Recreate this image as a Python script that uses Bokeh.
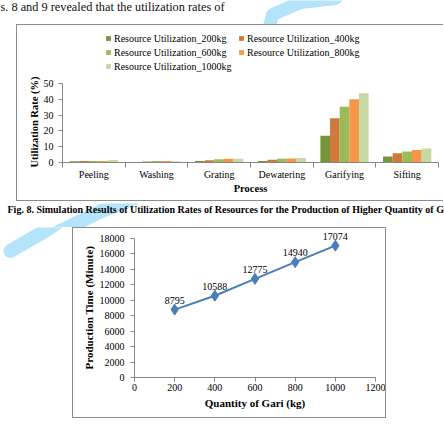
from bokeh.plotting import figure
from bokeh.models import (Range1d, LinearAxis, FixedTicker, Title,
                          Legend, LegendItem, ColumnDataSource, LabelSet, CustomJSTickFormatter)
from bokeh.layouts import column, row
from bokeh.transform import dodge
from bokeh.embed import file_html
from bokeh.resources import INLINE
from bokeh.core.properties import value

# ---------------- data ----------------
processes = ["Peeling", "Washing", "Grating", "Dewatering", "Garifying", "Sifting"]
series_labels = ["Resource Utilization_200kg", "Resource Utilization_400kg",
                 "Resource Utilization_600kg", "Resource Utilization_800kg",
                 "Resource Utilization_1000kg"]
util_200kg = [0.8, 0.3, 0.9, 1.0, 17.0, 3.8]
util_400kg = [1.0, 0.7, 1.4, 1.7, 28.0, 5.8]
util_600kg = [1.0, 0.9, 2.0, 2.4, 35.3, 7.0]
util_800kg = [1.0, 0.9, 2.4, 2.5, 40.0, 7.9]
util_1000kg = [1.6, 0.8, 2.4, 2.9, 43.8, 8.8]
util_ticks = [0, 10, 20, 30, 40, 50]

quantity_kg = [200, 400, 600, 800, 1000]
production_time_min = [8795, 10588, 12775, 14940, 17074]
quantity_ticks = [0, 200, 400, 600, 800, 1000, 1200]
time_ticks = [0, 2000, 4000, 6000, 8000, 10000, 12000, 14000, 16000, 18000]

intro_text = "s. 8 and 9 revealed that the utilization rates of"
caption8 = ("Fig. 8. Simulation Results of Utilization Rates of Resources for the "
            "Production of Higher Quantity of G")

# ---------------- styles ----------------
SERIF = "Liberation Serif"
AXIS_GRAY = "#868686"
FRAME_BORDER = "1px solid #8c8c8c"
series_colors = ["#77933C", "#CD7B3C", "#9BBB59", "#F79646", "#C6D9A3"]
LINE_BLUE = "#4A7EBB"
WATERMARK = "#b3e4fa"


def canvas(w, h):
    f = figure(width=w, height=h, x_range=Range1d(0, w), y_range=Range1d(h, 0),
               output_backend="svg", toolbar_location=None,
               x_axis_location=None, y_axis_location=None,
               min_border=0, min_border_left=0, min_border_right=0,
               min_border_top=0, min_border_bottom=0)
    f.xgrid.visible = False
    f.ygrid.visible = False
    f.outline_line_color = None
    f.background_fill_color = "white"
    f.border_fill_color = "white"
    return f


def style_axis(ax, size="10px"):
    ax.axis_line_color = AXIS_GRAY
    ax.major_tick_line_color = AXIS_GRAY
    ax.minor_tick_line_color = None
    ax.major_label_text_font = SERIF
    ax.major_label_text_font_size = size
    ax.major_label_text_color = "black"
    ax.axis_label_text_font = SERIF
    ax.axis_label_text_font_style = "bold"
    ax.axis_label_text_font_size = "10.5px"
    ax.axis_label_text_color = "black"


def side_title(text, offset, size, standoff):
    # vertical title on the left; "left" alignment starts at the frame bottom
    return Title(text=text, align="left", offset=offset, standoff=standoff,
                 text_font=SERIF, text_font_style="bold", text_font_size=size,
                 text_color="black")


# ---------------- top text (with a bit of the page watermark) ----------------
p_top = canvas(444, 24)
p_top.line(x=[335, 300, 272, 268], y=[-2, 2, 14, 30], line_width=13,
           line_color=WATERMARK, line_cap="round", line_join="round")
p_top.text(x=[0], y=[6], text=[intro_text], text_baseline="middle",
           text_font=value(SERIF), text_font_size="12.3px", text_color="#111111")

# ---------------- chart 1 ----------------
n_proc = len(processes)
centers = [i + 0.5 for i in range(n_proc)]
src1 = ColumnDataSource(dict(pos=centers, s200=util_200kg, s400=util_400kg,
                             s600=util_600kg, s800=util_800kg, s1000=util_1000kg))
cols = ["s200", "s400", "s600", "s800", "s1000"]

P1_W, P1_H = 427, 177
P1_LEFT, P1_RIGHT, P1_BOTTOM = 45, 6, 40
P1_AXIS_PX = 79                       # pixel height of the 0..50 value axis
p1_frame_h = P1_H - P1_BOTTOM
p1_top_val = util_ticks[-1] * p1_frame_h / P1_AXIS_PX   # room above the axis for the legend

p1 = figure(width=P1_W, height=P1_H, x_range=Range1d(0, n_proc),
            y_range=Range1d(0, p1_top_val), output_backend="svg", toolbar_location=None,
            min_border_left=P1_LEFT, min_border_right=P1_RIGHT, min_border_top=0,
            min_border_bottom=P1_BOTTOM)
p1.xgrid.visible = False
p1.ygrid.visible = False
p1.outline_line_color = None
p1.styles = {"border-left": FRAME_BORDER, "border-top": FRAME_BORDER,
             "border-bottom": FRAME_BORDER}

bw = 0.154
offsets = [-2 * bw, -bw, 0.0, bw, 2 * bw]
items = []
for col, off, colr, lab in zip(cols, offsets, series_colors, series_labels):
    r = p1.vbar(x=dodge("pos", off), top=col, width=bw,
                source=src1, fill_color=colr, line_color=None)
    items.append(LegendItem(label=lab, renderers=[r]))

style_axis(p1.yaxis[0])
p1.yaxis.ticker = FixedTicker(ticks=util_ticks)
p1.yaxis.bounds = (util_ticks[0], util_ticks[-1])
p1.yaxis.major_tick_out = 4
p1.yaxis.major_tick_in = 0
p1.yaxis.major_label_standoff = 5
p1.add_layout(side_title("Utilization Rate (%)", -5, "10.5px", 2), "left")

# boundary ticks (category separators) on the default x axis
ax_b = p1.xaxis[0]
style_axis(ax_b)
ax_b.ticker = FixedTicker(ticks=list(range(n_proc + 1)))
ax_b.formatter = CustomJSTickFormatter(code="return ''")
ax_b.major_tick_out = 5
ax_b.major_tick_in = 0
ax_b.major_label_standoff = 0
ax_b.major_label_text_font_size = "0px"

# category names at centres
ax_c = LinearAxis(ticker=FixedTicker(ticks=centers),
                  formatter=CustomJSTickFormatter(args=dict(names=processes),
                                                  code="return names[Math.floor(tick)] || ''"))
style_axis(ax_c)
ax_c.axis_line_color = None
ax_c.major_tick_line_color = None
ax_c.major_tick_out = 0
ax_c.major_tick_in = 0
ax_c.major_label_standoff = 1
ax_c.axis_label = "Process"
ax_c.axis_label_standoff = 0
p1.add_layout(ax_c, "below")

legend = Legend(items=items, orientation="horizontal", ncols=2, location=(43, 90),
                glyph_width=6, glyph_height=6, label_standoff=3, spacing=2,
                label_height=12, label_width=122, padding=0, margin=0,
                border_line_color=None, background_fill_alpha=0,
                label_text_font=SERIF, label_text_font_size="10px",
                label_text_color="black")
p1.add_layout(legend)

# ---------------- caption 8 ----------------
p_cap = canvas(444, 24)
p_cap.line(x=[140, 100, 55], y=[-8, 8, 30], line_width=14,
           line_color=WATERMARK, line_cap="round", line_join="round")
p_cap.text(x=[7], y=[6], text=[caption8], text_baseline="middle",
           text_font=value(SERIF), text_font_style="bold", text_font_size="10px",
           text_color="black")

# ---------------- chart 2 ----------------
labels = [str(v) for v in production_time_min]
src2 = ColumnDataSource(dict(q=quantity_kg, t=production_time_min, lbl=labels))

P2_W, P2_H = 314, 193 - 2
P2_LEFT, P2_RIGHT, P2_BOTTOM = 61, 12, 42
P2_AXIS_PX = 139
p2_frame_h = P2_H - P2_BOTTOM
p2_top_val = time_ticks[-1] * p2_frame_h / P2_AXIS_PX

p2 = figure(width=P2_W, height=P2_H, x_range=Range1d(quantity_ticks[0], quantity_ticks[-1]),
            y_range=Range1d(0, p2_top_val),
            output_backend="svg", toolbar_location=None,
            min_border_left=P2_LEFT, min_border_right=P2_RIGHT, min_border_top=0,
            min_border_bottom=P2_BOTTOM)
p2.xgrid.visible = False
p2.ygrid.visible = False
p2.outline_line_color = None
p2.styles = {"border": FRAME_BORDER}

p2.line("q", "t", source=src2, line_color=LINE_BLUE, line_width=2)
p2.scatter("q", "t", source=src2, marker="diamond", size=11,
           fill_color=LINE_BLUE, line_color=LINE_BLUE)
p2.add_layout(LabelSet(x="q", y="t", text="lbl", source=src2, y_offset=6,
                       text_align="center", text_baseline="bottom",
                       text_font=value(SERIF), text_font_size="10px", text_color="black"))

style_axis(p2.xaxis[0])
p2.xaxis.ticker = FixedTicker(ticks=quantity_ticks)
p2.xaxis.major_tick_out = 4
p2.xaxis.major_tick_in = 0
p2.xaxis.major_label_standoff = 2
p2.xaxis.axis_label = "Quantity of Gari (kg)"
p2.xaxis.axis_label_standoff = 3
p2.xaxis.axis_label_text_font_size = "11px"

style_axis(p2.yaxis[0])
p2.yaxis.ticker = FixedTicker(ticks=time_ticks)
p2.yaxis.bounds = (time_ticks[0], time_ticks[-1])
p2.yaxis.major_tick_out = 4
p2.yaxis.major_tick_in = 0
p2.yaxis.major_label_standoff = 6
p2.add_layout(side_title("Production Time (Minute)", 8, "11px", 3), "left")

# left margin beside chart 2 (page watermark continues here)
p_left = canvas(72, 193)
p_left.line(x=[75, 45, 10], y=[-22, 4, 30], line_width=14,
            line_color=WATERMARK, line_cap="round", line_join="round")
p_right = canvas(58, 193)
p_left1 = canvas(16, 179)
p_bot = canvas(444, 5)

layout = column(
    p_top,
    row(p_left1, p1),
    p_cap,
    row(p_left, p2, p_right),
    p_bot,
)

open("out.html", "w").write(file_html(layout, INLINE))
